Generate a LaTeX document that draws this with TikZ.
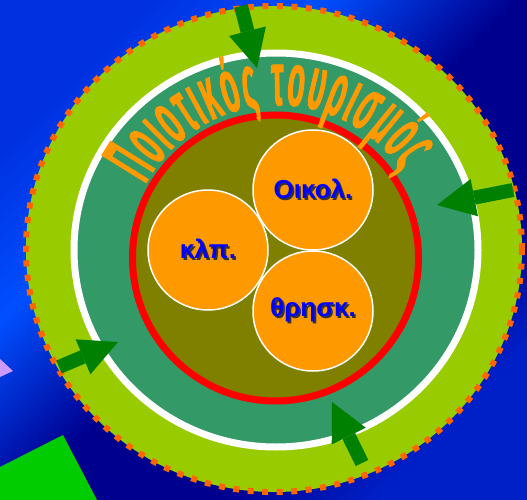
\documentclass[tikz,border=0pt]{standalone}
\usepackage{fontspec}
\setmainfont{Liberation Sans}
\newfontfamily\arcfont[FakeStretch=0.37,BoldFeatures={FakeBold=1.2}]{Liberation Sans}
\usetikzlibrary{arrows.meta,decorations.text}
\definecolor{ringgreen}{HTML}{99CC00}
\definecolor{dashorange}{HTML}{FF6600}
\definecolor{seagreen}{HTML}{339966}
\definecolor{olivefill}{HTML}{808000}
\definecolor{bubbleorange}{HTML}{FF9900}
\definecolor{arrowgreen}{HTML}{008000}
\definecolor{padgreen}{HTML}{00CC00}
\definecolor{lavender}{HTML}{CC99FF}
\definecolor{labelblue}{HTML}{0000FF}
\pgfdeclarehorizontalshading{bgshade}{100bp}{rgb(0bp)=(0,0.19,0.88); rgb(25bp)=(0,0.19,0.88);
  rgb(36.7bp)=(0,0.31,1); rgb(50.3bp)=(0,0,0.56); rgb(64bp)=(0,0,0.56);
  rgb(75bp)=(0,0.125,0.78); rgb(100bp)=(0,0.125,0.78)}
\newcommand\shadowed[1]{\makebox[0pt][l]{\kern1.8pt\raisebox{-1.8pt}{\color{black!80}#1}}#1}
\tikzset{
  bubble/.style={circle,draw=white,line width=1.5pt,fill=bubbleorange,minimum size=120pt,
    inner sep=0pt,font=\bfseries\fontsize{26}{26}\selectfont,text=labelblue},
  inarrow/.style={draw=arrowgreen,line width=14pt,
    -{Triangle[length=38pt,width=38pt,line width=0pt]}}
}

\begin{document}
\begin{tikzpicture}[x=1pt,y=-1pt]
\useasboundingbox (0,0) rectangle (527,500);
\shade[shading=bgshade,shading angle=-45] (0,0) rectangle (527,500);
\fill[padgreen] (0,467) -- (63,435) -- (97,500) -- (0,500) -- cycle;
\fill[lavender] (0,359) -- (13,371) -- (0,377) -- cycle;
% rings
\filldraw[fill=ringgreen,draw=dashorange,line width=6pt,dash pattern=on 6pt off 8.5pt]
  (274,249) ellipse [x radius=248,y radius=243];
\filldraw[fill=seagreen,draw=white,line width=7pt] (276,250) ellipse [x radius=202,y radius=197];
\filldraw[fill=olivefill,draw=red,line width=7pt] (275.5,258) circle [radius=143];
% arched title
\coordinate (titlec) at (278,255);
\path[decorate,decoration={text along path,text color=bubbleorange,text align={fit to path},
  text={|\arcfont\bfseries\fontsize{76}{76}\selectfont|Ποιοτικός τουρισμός}}]
  ([shift={(208:150)}]titlec) arc [start angle=208,end angle=326,radius=150];
\node[bubble] (oik) at (313,190) {\shadowed{Οικολ.}};
\node[bubble] (klp) at (208,250) {\shadowed{κλπ.}};
\node[bubble] (thr) at (313,311) {\shadowed{θρησκ.}};
% arrows
\coordinate (t1) at (241,6);   \coordinate (h1) at (257,68);
\coordinate (t2) at (513,190); \coordinate (h2) at (437,205);
\coordinate (t3) at (59,367);  \coordinate (h3) at (118,342);
\coordinate (t4) at (362,463); \coordinate (h4) at (332,402);
\foreach \i in {1,...,4}
  \draw[inarrow] (t\i) -- (h\i);
\end{tikzpicture}
\end{document}
